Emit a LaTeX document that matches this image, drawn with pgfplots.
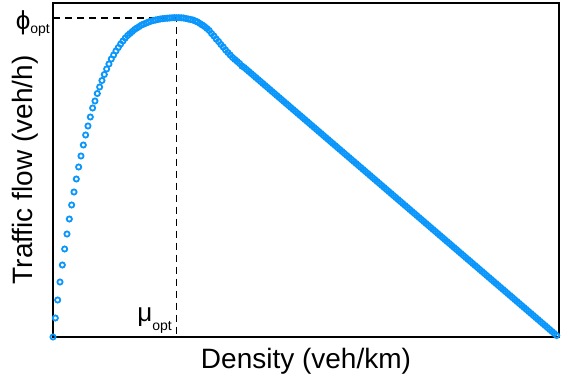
\documentclass[border=0pt]{standalone}
\usepackage{pgfplots}
\pgfplotsset{compat=1.18}
\usepackage{fontspec}
\setmainfont{Liberation Sans}
\definecolor{ptblue}{RGB}{10,150,250}
\begin{document}
\begin{tikzpicture}
\begin{axis}[
  scale only axis, width=506pt, height=334pt,
  at={(0pt,0pt)}, anchor=south west,
  xmin=0, xmax=217, ymin=0, ymax=334,
  xtick=\empty, ytick=\empty,
  axis line style={line width=1.8pt},
  clip=true,
]
\addplot[only marks, mark=o, mark size=2.6pt, mark options={line width=1.8pt, ptblue}] table {
x y
0 0
1 19
2 37
3 55
4 72
5 88
6 103
7 118
8 132
9 145
10 158
11 170
12 181
13 192
14 202
15 211
16 220
17 229
18 236
19 243.5
20 250
21 256.5
22 262.5
23 268
24 273
25 278
26 282
27 286
28 289.5
29 293
30 296
31 299
32 301.5
33 303.5
34 305.5
35 307.5
36 309
37 310.5
38 312
39 313
40 314
41 315
42 315.8
43 316.5
44 317
45 317.5
46 318
47 318.3
48 318.6
49 318.8
50 319
51 319.2
52 319.3
53 319.3
54 319.3
55 319.2
56 319
57 318.5
58 318
59 317.5
60 317
61 316
62 315
63 313.5
64 312
65 310.5
66 308.5
67 306.5
68 303.5
69 301
70 298
71 295.5
72 292.5
73 290
74 287
75 284.5
76 282
77 279.5
78 277.5
79 275.5
80 273.5
81 271
82 269.5
83 267.5
84 265.5
85 263.5
86 261.5
87 259.5
88 257.5
89 255.5
90 253.5
91 251.5
92 249.5
93 247.5
94 245.5
95 243.5
96 241.5
97 239.5
98 237.5
99 235.5
100 233.5
101 231.5
102 229.5
103 227.5
104 225.5
105 223.5
106 221.5
107 219.5
108 217.5
109 215.5
110 213.5
111 211.5
112 209.5
113 207.5
114 205.5
115 203.5
116 201.5
117 199.5
118 197.5
119 195.5
120 193.5
121 191.5
122 189.5
123 187.5
124 185.5
125 183.5
126 181.5
127 179.5
128 177.5
129 175.5
130 173.5
131 171.5
132 169.5
133 167.5
134 165.5
135 163.5
136 161.5
137 159.5
138 157.5
139 155.5
140 153.5
141 151.5
142 149.5
143 147.5
144 145.5
145 143.5
146 141.5
147 139.5
148 137.5
149 135.5
150 133.5
151 131.5
152 129.5
153 127.5
154 125.5
155 123.5
156 121.5
157 119.5
158 117.5
159 115.5
160 113.5
161 111.5
162 109.5
163 107.5
164 105.5
165 103.5
166 101.5
167 99.5
168 97.5
169 95.5
170 93.5
171 91.5
172 89.5
173 87.5
174 85.5
175 83.5
176 81.5
177 79.5
178 77.5
179 75.5
180 73.5
181 71.5
182 69.5
183 67.5
184 65.5
185 63.5
186 61.5
187 59.5
188 57.5
189 55.5
190 53.5
191 51.5
192 49.5
193 47.5
194 45.5
195 43.5
196 41.5
197 39.5
198 37.5
199 35.5
200 33.5
201 31.5
202 29.5
203 27.5
204 25.5
205 23.5
206 21.5
207 19.5
208 17.5
209 15.5
210 13.5
211 11.5
212 9.5
213 7.5
214 5.5
215 3.5
216 1.5
};
\draw[black, line width=1.7pt, dash pattern=on 7pt off 5pt] (axis cs:0,319) -- (axis cs:52.9,319) -- (axis cs:52.9,0);
\end{axis}
\node[anchor=center, inner sep=0pt] at (253pt,-24pt) {\fontsize{28}{32}\selectfont Density (veh/km)};
\node[anchor=center, inner sep=0pt, rotate=90] at (-28pt,167pt) {\fontsize{28}{32}\selectfont Traffic flow (veh/h)};
\node[anchor=base east, inner sep=0pt] at (-3pt,307.5pt) {\fontsize{26}{26}\selectfont ϕ\raisebox{-4pt}{\fontsize{14}{14}\selectfont opt}};
\node[anchor=base east, inner sep=0pt] at (119pt,15.5pt) {\fontsize{26}{26}\selectfont μ\raisebox{-9pt}{\fontsize{14}{14}\selectfont opt}};
\pgfresetboundingbox
\path (-53pt,-46pt) rectangle (508pt,337pt);
\end{tikzpicture}
\end{document}
